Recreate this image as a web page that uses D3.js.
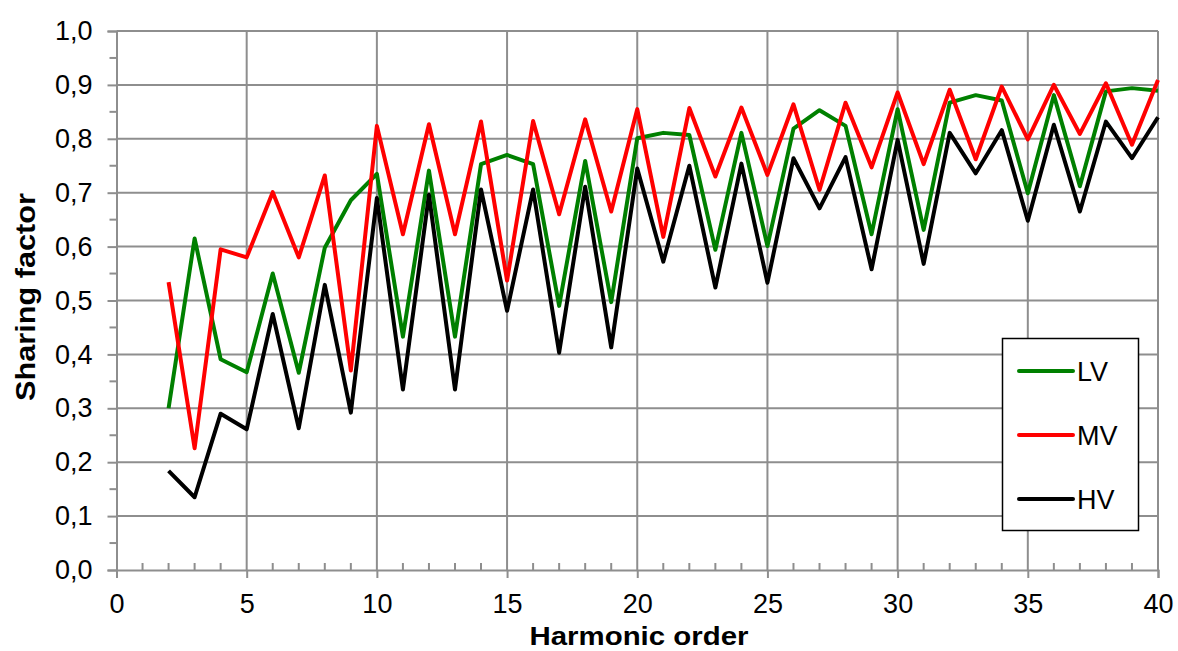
<!DOCTYPE html>
<html>
<head>
<meta charset="utf-8">
<script src="https://cdn.jsdelivr.net/npm/d3@7"></script>
<style>
  html, body { margin: 0; padding: 0; background: #fff; }
  svg { display: block; font-family: "Liberation Sans", Arial, sans-serif; }
</style>
</head>
<body>
<svg id="chart" width="1178" height="651"></svg>
<script>
// Harmonic orders 2..40
const harmonics = d3.range(2, 41);

// Sharing factor per voltage level
const lvValues = [0.300, 0.615, 0.391, 0.367, 0.550, 0.366, 0.598, 0.686, 0.735,
  0.433, 0.741, 0.433, 0.753, 0.770, 0.753, 0.490, 0.759, 0.497, 0.801,
  0.811, 0.807, 0.594, 0.811, 0.601, 0.819, 0.853, 0.824, 0.623, 0.855,
  0.631, 0.867, 0.881, 0.871, 0.699, 0.881, 0.712, 0.888, 0.894, 0.889];

const mvValues = [0.534, 0.226, 0.595, 0.580, 0.701, 0.580, 0.732, 0.370, 0.824,
  0.623, 0.827, 0.623, 0.832, 0.537, 0.833, 0.660, 0.836, 0.665, 0.855,
  0.618, 0.857, 0.730, 0.858, 0.733, 0.864, 0.705, 0.867, 0.747, 0.886,
  0.753, 0.891, 0.762, 0.897, 0.799, 0.900, 0.809, 0.903, 0.789, 0.909];

const hvValues = [0.184, 0.135, 0.290, 0.261, 0.475, 0.263, 0.529, 0.292, 0.690,
  0.335, 0.696, 0.335, 0.706, 0.481, 0.706, 0.403, 0.711, 0.413, 0.745,
  0.572, 0.750, 0.524, 0.754, 0.533, 0.764, 0.671, 0.766, 0.558, 0.798,
  0.568, 0.811, 0.736, 0.816, 0.648, 0.826, 0.665, 0.832, 0.764, 0.840];

const seriesNames = ["LV", "MV", "HV"];
const seriesColors = ["#008000", "#ff0000", "#000000"];

const xTicks = [0, 5, 10, 15, 20, 25, 30, 35, 40];
const yTicks = [0, 0.1, 0.2, 0.3, 0.4, 0.5, 0.6, 0.7, 0.8, 0.9, 1.0];

const series = [lvValues, mvValues, hvValues].map((vals, i) => ({
  name: seriesNames[i],
  color: seriesColors[i],
  points: harmonics.map((h, j) => ({ h, v: vals[j] }))
}));

const svg = d3.select("#chart");
const gridColor = "#8e8e8e";

const x = d3.scaleLinear().domain([0, 40]).range([116.5, 1158]);
const y = d3.scaleLinear().domain([0, 1]).range([570, 31]);

const fmt = d => d3.format(".1f")(d).replace(".", ",");

// Gridlines
const grid = svg.append("g");
grid.selectAll("line.h").data(yTicks.slice(1)).join("line")
  .attr("x1", x(0)).attr("x2", x(40))
  .attr("y1", d => y(d)).attr("y2", d => y(d))
  .attr("stroke", gridColor).attr("stroke-width", 2);
grid.selectAll("line.v").data(xTicks.slice(1)).join("line")
  .attr("x1", d => x(d)).attr("x2", d => x(d))
  .attr("y1", y(0)).attr("y2", y(1))
  .attr("stroke", gridColor).attr("stroke-width", 2);

// Y axis with minor ticks at 0.05
const yAxis = svg.append("g").attr("transform", `translate(${x(0)},0)`)
  .call(d3.axisLeft(y).tickValues(yTicks).tickFormat(fmt).tickSize(9).tickPadding(15));
yAxis.select(".domain").attr("stroke", gridColor).attr("stroke-width", 2);
yAxis.selectAll(".tick line").attr("stroke", gridColor).attr("stroke-width", 2);
yAxis.selectAll(".tick text").attr("font-size", 27).attr("fill", "#000")
  .attr("font-family", "Liberation Sans, Arial, sans-serif");
svg.append("g").selectAll("line").data(d3.range(0.05, 1, 0.1)).join("line")
  .attr("x1", x(0) - 7).attr("x2", x(0))
  .attr("y1", d => y(d)).attr("y2", d => y(d))
  .attr("stroke", gridColor).attr("stroke-width", 2);

// X axis with minor ticks at every unit
const xAxis = svg.append("g").attr("transform", `translate(0,${y(0)})`)
  .call(d3.axisBottom(x).tickValues(xTicks).tickFormat(d3.format("d")).tickSize(8).tickPadding(16));
xAxis.select(".domain").attr("stroke", gridColor).attr("stroke-width", 2);
xAxis.selectAll(".tick line").attr("stroke", gridColor).attr("stroke-width", 2);
xAxis.selectAll(".tick text").attr("font-size", 27).attr("fill", "#000")
  .attr("font-family", "Liberation Sans, Arial, sans-serif");
svg.append("g").selectAll("line").data(d3.range(1, 40).filter(d => d % 5 !== 0)).join("line")
  .attr("x1", d => x(d)).attr("x2", d => x(d))
  .attr("y1", y(0) - 7).attr("y2", y(0))
  .attr("stroke", gridColor).attr("stroke-width", 2);

// Series lines
const line = d3.line().x(d => x(d.h)).y(d => y(d.v));
svg.append("g").selectAll("path").data(series).join("path")
  .attr("d", d => line(d.points))
  .attr("fill", "none")
  .attr("stroke", d => d.color)
  .attr("stroke-width", 4)
  .attr("stroke-linejoin", "round")
  .attr("stroke-linecap", "butt");

// Axis titles
svg.append("text")
  .attr("x", 639).attr("y", 645)
  .attr("text-anchor", "middle")
  .attr("font-size", 26).attr("font-weight", "bold")
  .attr("textLength", 219).attr("lengthAdjust", "spacingAndGlyphs")
  .text("Harmonic order");
svg.append("text")
  .attr("transform", "translate(35,297) rotate(-90)")
  .attr("text-anchor", "middle")
  .attr("font-size", 27).attr("font-weight", "bold")
  .attr("textLength", 208).attr("lengthAdjust", "spacingAndGlyphs")
  .text("Sharing factor");

// Legend
const legend = svg.append("g");
legend.append("rect")
  .attr("x", 1002.5).attr("y", 338.5).attr("width", 136).attr("height", 192)
  .attr("fill", "#fff").attr("stroke", "#000").attr("stroke-width", 1.5);
const items = legend.selectAll("g.item").data(series).join("g")
  .attr("transform", (d, i) => `translate(0,${371 + i * 64})`);
items.append("line")
  .attr("x1", 1019).attr("x2", 1073).attr("y1", 0).attr("y2", 0)
  .attr("stroke", d => d.color).attr("stroke-width", 4).attr("stroke-linecap", "round");
items.append("text")
  .attr("x", 1077).attr("y", 10)
  .attr("font-size", 27)
  .text(d => d.name);
</script>
</body>
</html>
